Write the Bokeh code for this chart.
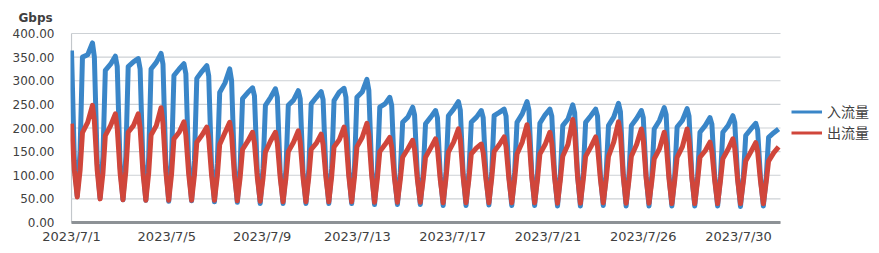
from bokeh.plotting import figure
from bokeh.models import (Range1d, FixedTicker, NumeralTickFormatter, Legend,
                          LegendItem, Title)
from bokeh.embed import file_html
from bokeh.resources import INLINE

# ---- data ----
tick_hours = [0, 100, 200, 300, 400, 500, 600, 700]
tick_labels = ["2023/7/1", "2023/7/5", "2023/7/9", "2023/7/13",
               "2023/7/17", "2023/7/21", "2023/7/26", "2023/7/30"]
y_ticks = [0, 50, 100, 150, 200, 250, 300, 350, 400]
x_end = 744  # end of the category axis (hours)

# hour of day of each daily key point:
# midnight, night, trough, dawn, morning, afternoon, evening peak
key_hours = [0, 3, 6, 9, 11.5, 17, 22]

in_midnight = [364, 350, 330, 325, 335, 315, 310, 300, 268, 265, 262, 260, 265,
               280, 248, 228, 222, 238, 222, 225, 238, 225, 232, 225, 235, 222,
               228, 225, 208, 212, 196]
in_night = [130, 125, 120, 120, 122, 118, 115, 112, 105, 105, 105, 105, 108,
            110, 100, 98, 98, 102, 98, 100, 102, 100, 102, 100, 102, 98, 100,
            98, 95, 96, 94]
in_trough = [56, 52, 48, 47, 45, 46, 44, 43, 40, 40, 40, 40, 40, 38, 38, 38,
             36, 36, 37, 36, 36, 35, 35, 36, 35, 35, 35, 35, 35, 34, 35]
in_dawn = [150, 140, 140, 138, 135, 132, 125, 120, 115, 112, 112, 115, 118,
           112, 105, 103, 108, 105, 108, 105, 103, 102, 105, 102, 102, 100, 100,
           98, 98, 96, 95]
in_am = [350, 322, 330, 325, 311, 305, 275, 262, 248, 248, 251, 258, 265, 244,
         212, 209, 226, 212, 226, 212, 210, 205, 212, 205, 205, 198, 202, 191,
         191, 184, 180]
in_pm = [355, 335, 340, 339, 325, 320, 295, 275, 265, 259, 265, 276, 276, 251,
         223, 223, 240, 223, 233, 230, 228, 219, 226, 223, 220, 216, 216, 205,
         205, 198, 190]
in_peak = [380, 352, 347, 358, 336, 332, 325, 285, 283, 279, 277, 284, 303, 265,
           244, 237, 256, 237, 240, 256, 240, 249, 240, 252, 237, 243, 241, 222,
           226, 210, 198]

out_midnight = [209, 215, 200, 200, 210, 185, 178, 185, 168, 168, 170, 165,
                178, 185, 160, 155, 157, 175, 148, 160, 182, 168, 190, 160, 188,
                175, 168, 175, 150, 157, 150]
out_night = [110, 110, 105, 105, 108, 102, 100, 100, 95, 95, 95, 95, 98, 100,
             92, 90, 90, 96, 90, 92, 96, 94, 98, 92, 97, 94, 92, 94, 88, 90, 88]
out_trough = [54, 50, 48, 47, 47, 47, 47, 46, 45, 44, 44, 44, 44, 43, 43, 43,
              42, 42, 42, 42, 42, 41, 41, 42, 41, 41, 40, 40, 40, 40, 40]
out_dawn = [110, 105, 108, 105, 102, 100, 98, 96, 94, 94, 96, 97, 97, 94, 90,
            90, 94, 91, 94, 91, 91, 90, 90, 90, 90, 88, 89, 89, 88, 86, 86]
out_am = [190, 184, 191, 185, 177, 170, 165, 155, 149, 150, 155, 160, 160, 150,
          138, 138, 149, 145, 150, 145, 145, 140, 140, 140, 140, 135, 138, 138,
          135, 130, 130]
out_pm = [212, 205, 205, 205, 191, 185, 190, 172, 173, 170, 168, 175, 180, 165,
          156, 158, 170, 158, 165, 170, 165, 165, 160, 170, 165, 156, 160, 152,
          155, 150, 148]
out_peak = [248, 230, 230, 243, 213, 202, 212, 191, 191, 194, 187, 202, 210, 180,
            174, 177, 198, 166, 181, 207, 191, 218, 181, 213, 198, 191, 198, 170,
            177, 169, 160]


def build(*series):
    xs, ys = [], []
    for d in range(len(series[0])):
        for h, s in zip(key_hours, series):
            xs.append(24 * d + h)
            ys.append(s[d])
    return xs, ys


in_x, in_y = build(in_midnight, in_night, in_trough, in_dawn, in_am, in_pm,
                   in_peak)
out_x, out_y = build(out_midnight, out_night, out_trough, out_dawn, out_am,
                     out_pm, out_peak)

BLUE = "#3a86c8"
RED = "#d0463b"
TXT = "#404040"
GRID = "#cdd1d5"
NAN = float("nan")

# frame: x 70..879 px, y 32..224 px ; data area 71..780 x 33..222
ux = x_end / 709.0          # hours per pixel
uy = 400 / 189.0            # Gbps per pixel
p = figure(width=879, height=253, output_backend="svg", toolbar_location=None,
           x_range=Range1d(-1 * ux, -1 * ux + 809 * ux),
           y_range=Range1d(-2 * uy, 400 + 1 * uy),
           min_border_left=70, min_border_right=0, min_border_top=32,
           min_border_bottom=29)
p.outline_line_color = None
p.background_fill_color = "white"
p.border_fill_color = "white"

p.xgrid.visible = False
p.ygrid.visible = False
# horizontal gridlines spanning the category axis only
p.segment(x0=[0] * len(y_ticks), x1=[x_end] * len(y_ticks), y0=y_ticks,
          y1=y_ticks, line_color=GRID, line_width=1.2)
# left value axis line
p.segment(x0=[0], x1=[0], y0=[0], y1=[400], line_color="#c3c7cb", line_width=1.2)

p.yaxis.ticker = FixedTicker(ticks=y_ticks)
p.yaxis.formatter = NumeralTickFormatter(format="0.00")
p.yaxis.axis_line_color = None
p.yaxis.major_tick_line_color = None
p.yaxis.minor_tick_line_color = None
p.yaxis.major_tick_out = 0
p.yaxis.major_label_standoff = 16
p.yaxis.major_label_text_font = "DejaVu Sans"
p.yaxis.major_label_text_font_size = "12px"
p.yaxis.major_label_text_color = TXT

p.xaxis.ticker = FixedTicker(ticks=tick_hours)
p.xaxis.major_label_overrides = {h: l for h, l in zip(tick_hours, tick_labels)}
p.xaxis.axis_line_color = None
p.xaxis.major_tick_line_color = None
p.xaxis.minor_tick_line_color = None
p.xaxis.major_tick_out = 0
p.xaxis.major_label_standoff = 4
p.xaxis.major_label_text_font = "DejaVu Sans"
p.xaxis.major_label_text_font_size = "13px"
p.xaxis.major_label_text_color = TXT

p.line(in_x, in_y, line_color=BLUE, line_width=5, line_join="round")
p.line(out_x, out_y, line_color=RED, line_width=5, line_join="round")

# bottom category axis line
p.segment(x0=[0], x1=[x_end], y0=[0], y1=[0], line_color="#8d9296", line_width=3)

# legend sample renderers (thinner lines, nothing drawn in the plot)
lb = p.line(x=[NAN], y=[NAN], line_color=BLUE, line_width=3)
lr = p.line(x=[NAN], y=[NAN], line_color=RED, line_width=3)
legend = Legend(items=[LegendItem(label="入流量", renderers=[lb]),
                       LegendItem(label="出流量", renderers=[lr])],
                location=(721, 81.5), glyph_width=31, glyph_height=21,
                label_height=21, label_standoff=5, spacing=0, padding=0,
                margin=0, border_line_color=None, background_fill_alpha=0,
                label_text_font="Noto Sans CJK SC", label_text_font_size="14px",
                label_text_color=TXT)
p.add_layout(legend)

p.title = Title(text="Gbps", align="left", offset=-52, standoff=15,
                text_font="DejaVu Sans", text_font_size="12px",
                text_font_style="bold", text_color=TXT)

open("out.html", "w").write(file_html(p, INLINE))
